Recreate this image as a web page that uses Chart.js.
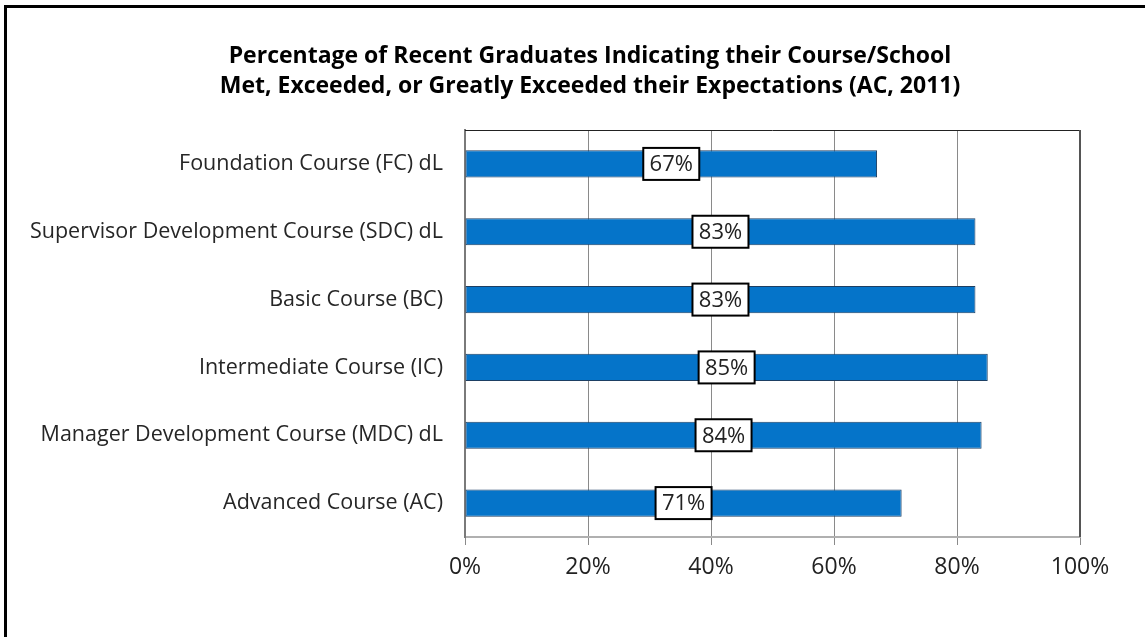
<!DOCTYPE html>
<html>
<head>
<meta charset="utf-8">
<script src="https://cdn.jsdelivr.net/npm/chart.js@4/dist/chart.umd.min.js"></script>
<style>
  html, body { margin: 0; padding: 0; background: #fff; overflow: hidden; }
  #wrap { position: relative; width: 1145px; height: 637px; }
  #frame {
    position: absolute; left: 4px; top: 5px; width: 1300px; height: 800px;
    border-top: 3px solid #000; border-left: 3px solid #000; pointer-events: none;
  }
</style>
</head>
<body>
<div id="wrap">
  <canvas id="grad-chart" width="1145" height="637"></canvas>
  <div id="frame"></div>
</div>
<script>
const courses = [
    "Foundation Course (FC) dL",
    "Supervisor Development Course (SDC) dL",
    "Basic Course (BC)",
    "Intermediate Course (IC)",
    "Manager Development Course (MDC) dL",
    "Advanced Course (AC)"
];
const percentMet = [67, 83, 83, 85, 84, 71];
const xTicks = ["0%", "20%", "40%", "60%", "80%", "100%"];

const titleLines = [
    "Percentage of Recent Graduates Indicating their Course/School",
    "Met, Exceeded, or Greatly Exceeded their Expectations (AC, 2011)"
];

const FONT = "'Open Sans', 'Noto Sans', sans-serif";

// two-line title, centred a little right of the canvas middle like the original
const titleBlock = {
    id: "titleBlock",
    afterDraw(chart) {
        const ctx = chart.ctx;
        ctx.save();
        ctx.font = "bold 23px " + FONT;
        ctx.fillStyle = "#000";
        ctx.textAlign = "center";
        ctx.textBaseline = "middle";
        titleLines.forEach((t, i) => ctx.fillText(t, 590, 56 + i * 30));
        ctx.restore();
    }
};

// boxed value labels in the middle of each bar
const boxLabels = {
    id: "boxLabels",
    afterDatasetsDraw(chart) {
        const ctx = chart.ctx;
        const meta = chart.getDatasetMeta(0);
        ctx.save();
        ctx.font = "22px " + FONT;
        ctx.textAlign = "center";
        ctx.textBaseline = "middle";
        meta.data.forEach((bar, i) => {
            const cx = (bar.x + bar.base) / 2;
            const cy = bar.y;
            const w = 56, h = 32;
            ctx.fillStyle = "#fff";
            ctx.fillRect(cx - w / 2, cy - h / 2, w, h);
            ctx.lineWidth = 2;
            ctx.strokeStyle = "#000";
            ctx.strokeRect(cx - w / 2, cy - h / 2, w, h);
            ctx.fillStyle = "#222";
            ctx.fillText(percentMet[i] + "%", cx, cy + 1);
        });
        ctx.restore();
    }
};

// plot area outline (top and right edges)
const plotFrame = {
    id: "plotFrame",
    beforeDatasetsDraw(chart) {
        const a = chart.chartArea;
        const ctx = chart.ctx;
        ctx.save();
        ctx.strokeStyle = "#222";
        ctx.lineWidth = 1;
        ctx.beginPath();
        ctx.moveTo(a.left, a.top + 0.5);
        ctx.lineTo(a.right, a.top + 0.5);
        ctx.stroke();
        ctx.strokeStyle = "#555";
        ctx.lineWidth = 2;
        ctx.beginPath();
        ctx.moveTo(a.right, a.top);
        ctx.lineTo(a.right, a.bottom);
        ctx.stroke();
        ctx.restore();
    }
};

const ctx = document.getElementById("grad-chart").getContext("2d");
new Chart(ctx, {
    type: "bar",
    data: {
        labels: courses,
        datasets: [{
            data: percentMet,
            backgroundColor: "#0574C9",
            borderColor: "#1D3F63",
            borderWidth: 1,
            borderSkipped: false,
            barPercentage: 0.4,
            categoryPercentage: 1
        }]
    },
    options: {
        indexAxis: "y",
        responsive: false,
        animation: false,
        layout: { padding: { left: 0, right: 65, top: 130, bottom: 0 } },
        plugins: {
            legend: { display: false },
            tooltip: { enabled: false },
            title: { display: false }
        },
        scales: {
            x: {
                min: 0,
                max: 100,
                ticks: {
                    stepSize: 20,
                    color: "#222",
                    font: { family: FONT, size: 23 },
                    padding: 9,
                    callback: (v, i) => xTicks[i]
                },
                grid: { color: "#8a8a8a", lineWidth: 1, tickLength: 8, drawTicks: true },
                border: { color: "#b0b0b0", width: 2 },
                afterFit(scale) { scale.height = 100; }
            },
            y: {
                ticks: {
                    color: "#262626",
                    font: { family: FONT, size: 21.5 },
                    padding: 14
                },
                grid: { display: false },
                border: { color: "#7a7a7a", width: 2 },
                afterFit(scale) { scale.width = 465; }
            }
        }
    },
    plugins: [plotFrame, boxLabels, titleBlock]
});
</script>
</body>
</html>
